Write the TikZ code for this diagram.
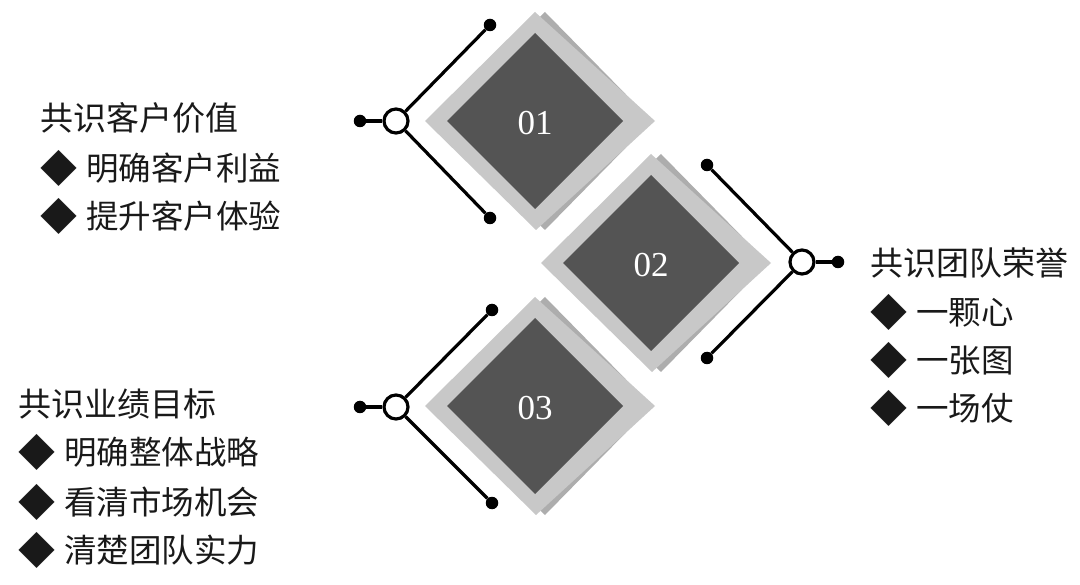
\documentclass[tikz,border=0pt]{standalone}
\usepackage{fontspec}
\setmainfont{Liberation Serif}
\newfontfamily\cjk{Noto Sans CJK SC}
\definecolor{lightg}{HTML}{C8C8C8}
\definecolor{shadg}{HTML}{ADADAD}
\definecolor{darkg}{HTML}{545454}
\newcommand\bul{\raisebox{-2pt}{\fontsize{37}{37}\selectfont◆}\hspace{9pt}}
\tikzset{
  hub/.style={circle, draw=black, line width=3.2pt, fill=white, minimum size=24pt, inner sep=0pt},
  tipdot/.style={circle, fill=black, minimum size=12.5pt, inner sep=0pt},
  wire/.style={line width=3.2pt, black},
  num/.style={text=white, inner sep=0pt, font=\fontsize{35}{38}\selectfont},
  txt/.style={anchor=west, inner sep=0pt, text=black!90, font=\cjk\fontsize{33}{38}\selectfont},
  subtxt/.style={txt, font=\cjk\fontsize{32.5}{38}\selectfont},
}
\begin{document}
\begin{tikzpicture}[x=1pt,y=-1pt]
\useasboundingbox (0,0) rectangle (1080,585);
\fill[white] (0,0) rectangle (1080,585);
% diamonds
\foreach \i/\cx/\cy in {1/535/121, 2/651/263, 3/535/406}{
  \begin{scope}[shift={(\cx,\cy)}]
    \fill[shadg] (10,-109) -- (117,0) -- (10,109) -- (-100,0) -- cycle;
    \fill[lightg] (0,-109) -- (120,0) -- (1,109) -- (-110,0) -- cycle;
    \fill[darkg] (0,-88) -- (88,0) -- (0,88) -- (-88,0) -- cycle;
    \node[num] (n\i) at (0,2) {0\i};
  \end{scope}
}
% connector 1
\node[hub] (h1) at (396,121) {};
\node[tipdot] (a1) at (360,121) {};
\node[tipdot] (b1) at (490,25) {};
\node[tipdot] (c1) at (490,218) {};
% connector 3
\node[hub] (h3) at (396,407) {};
\node[tipdot] (a3) at (360,407) {};
\node[tipdot] (b3) at (492,310) {};
\node[tipdot] (c3) at (492,503) {};
% connector 2
\node[hub] (h2) at (802,262) {};
\node[tipdot] (a2) at (838,262) {};
\node[tipdot] (b2) at (707,165) {};
\node[tipdot] (c2) at (707,358) {};
\foreach \i in {1,2,3}{
  \draw[wire] (a\i) -- (h\i);
  \draw[wire] (b\i) -- (h\i);
  \draw[wire] (c\i) -- (h\i);
}
% texts
\node[txt] (t1) at (40,118) {共识客户价值};
\node[subtxt] (t2) at (40,168) {\bul 明确客户利益};
\node[subtxt] (t3) at (40,216) {\bul 提升客户体验};
\node[txt] (u1) at (18,404) {共识业绩目标};
\node[subtxt] (u2) at (18,452) {\bul 明确整体战略};
\node[subtxt] (u3) at (18,502) {\bul 看清市场机会};
\node[subtxt] (u4) at (18,550) {\bul 清楚团队实力};
\node[txt] (v1) at (870,263) {共识团队荣誉};
\node[subtxt] (v2) at (870,312) {\bul 一颗心};
\node[subtxt] (v3) at (870,360) {\bul 一张图};
\node[subtxt] (v4) at (870,408) {\bul 一场仗};
\end{tikzpicture}
\end{document}
